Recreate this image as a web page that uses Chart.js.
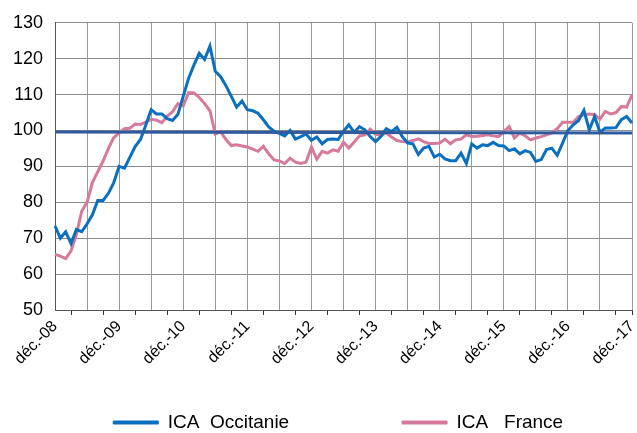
<!DOCTYPE html>
<html>
<head>
<meta charset="utf-8">
<script src="https://cdn.jsdelivr.net/npm/chart.js@4.4.0/dist/chart.umd.min.js"></script>
<style>
    html, body { margin: 0; padding: 0; background: #fff; }
</style>
</head>
<body>
<canvas id="myChart" width="637" height="433"></canvas>
<script>
// mois (déc.-08 -> déc.-17)
const nomsMois = ['janv.', 'févr.', 'mars', 'avr.', 'mai', 'juin', 'juil.', 'août', 'sept.', 'oct.', 'nov.', 'déc.'];
const annees = ['08', '09', '10', '11', '12', '13', '14', '15', '16', '17'];

const icaOccitanie = [
    73.4, 70, 71.8, 68.5, 72.4, 71.8, 74, 76.5, 80.5, 80.5, 82.5, 85.5,
    90, 89.5, 92.5, 95.5, 97.5, 101.5, 105.8, 104.6, 104.6, 103.3, 102.8, 104.5,
    109.5, 114.5, 118.2, 121.5, 119.8, 123.5, 116.5, 115, 112.5, 109.5, 106.5, 108.2,
    105.8, 105.5, 104.8, 103, 101, 99.8, 99.2, 98.5, 100, 97.6, 98.3, 99,
    97.3, 98.2, 96.3, 97.5, 97.6, 97.5, 99.8, 101.6, 99.5, 101.1, 100.2, 98.3,
    96.9, 98.3, 100.5, 99.7, 100.9, 98.3, 96.5, 96.3, 93.3, 95.1, 95.6, 92.6,
    93.4, 92.1, 91.6, 91.6, 93.7, 90.8, 96.3, 95.1, 96, 95.8, 96.7, 95.8,
    95.7, 94.4, 94.9, 93.5, 94.4, 93.9, 91.4, 91.9, 94.7, 95.1, 93.1, 96.5,
    100, 101.6, 102.8, 105.6, 100.2, 103.9, 99.5, 100.7, 100.7, 100.8, 103, 103.9,
    102.1
];

const icaFrance = [
    65.5, 65, 64.3, 66.5, 71, 77.5, 80, 85.5, 88.5, 91.5, 95, 98,
    99.3, 100.5, 100.6, 101.8, 101.7, 102.3, 103.1, 102.9, 102.2, 104, 105.2, 107.5,
    106.8, 110.5, 110.5, 109.2, 107.5, 105.5, 99, 99.7, 97.5, 95.8, 96, 95.7,
    95.4, 94.8, 94.2, 95.6, 93.5, 91.8, 91.5, 90.8, 92.3, 91.2, 90.8, 91.2,
    95.4, 92, 94.2, 93.7, 94.6, 94.2, 96.7, 95.1, 96.8, 98.5, 98.8, 100.4,
    99, 98.6, 99.3, 98.2, 97.2, 96.9, 96.8, 97.2, 97.7, 96.9, 96.4, 96.4,
    96.5, 97.6, 96.3, 97.4, 97.6, 98.8, 98.3, 98.4, 98.6, 98.8, 98.5, 98.3,
    99.7, 101.1, 97.9, 99.3, 98.5, 97.4, 97.9, 98.3, 98.8, 99.3, 100.5, 102.3,
    102.3, 102.3, 103.9, 104.4, 104.6, 104.4, 103.2, 105.3, 104.6, 105, 106.7, 106.5,
    109.9
];

// ligne de référence (début, fin)
const refDebut = 99.6;
const refFin = 99.3;

const legendeTextes = ['ICA  Occitanie', 'ICA   France'];
const yTicks = { min: 50, max: 130, pas: 10 };

let categories = [];
annees.forEach(function (a, k) {
    nomsMois.forEach(function (m, j) {
        if (k === 0 && j < 11) return;
        categories.push(m + '-' + a);
    });
});
categories = categories.slice(0, icaOccitanie.length);

const ligneRef = categories.map(function (c, i) {
    if (i === 0) return refDebut;
    if (i === categories.length - 1) return refFin;
    return null;
});

Chart.defaults.font.family = "'Liberation Sans', Arial, sans-serif";
Chart.defaults.color = '#000';

const ctx = document.getElementById('myChart');

const data = {
    labels: categories,
    datasets: [{
        label: legendeTextes[0],
        data: icaOccitanie,
        borderColor: '#0A6FBF',
        borderWidth: 3,
        pointRadius: 0,
        tension: 0,
        order: 1
    }, {
        label: legendeTextes[1],
        data: icaFrance,
        borderColor: '#D6799C',
        borderWidth: 3,
        pointRadius: 0,
        tension: 0,
        order: 2
    }, {
        label: 'ref',
        data: ligneRef,
        borderColor: '#2F5A9E',
        borderWidth: 3,
        pointRadius: 0,
        spanGaps: true,
        order: 0
    }]
};

const options = {
    responsive: false,
    animation: false,
    devicePixelRatio: 1,
    layout: {
        padding: { left: 0, right: 5, top: 22, bottom: 0 }
    },
    plugins: {
        tooltip: { enabled: false },
        legend: {
            position: 'bottom',
            fullSize: false,
            maxHeight: 22,
            labels: {
                boxWidth: 45,
                boxHeight: 3,
                padding: 2,
                font: { size: 19 },
                generateLabels: function (chart) {
                    // espaces pour écarter les deux entrées comme dans l'original
                    const suffixes = ['                     ', '  '];
                    return chart.data.datasets.slice(0, 2).map(function (ds, i) {
                        return {
                            text: ds.label + suffixes[i],
                            fillStyle: ds.borderColor,
                            strokeStyle: ds.borderColor,
                            lineWidth: 1,
                            hidden: false,
                            datasetIndex: i
                        };
                    });
                }
            }
        }
    },
    scales: {
        x: {
            afterFit: function (scale) {
                scale.height = 101;
                scale.paddingLeft = 0;
                scale.paddingRight = 0;
            },
            grid: {
                color: function (c) { return c.index % 6 === 0 ? '#9a9a9a' : 'transparent'; },
                tickColor: function (c) { return c.index % 6 === 3 || c.index === categories.length - 1 ? '#333' : 'transparent'; },
                tickLength: 5,
                lineWidth: 1
            },
            border: { color: '#555', width: 1 },
            ticks: {
                autoSkip: false,
                maxRotation: 45,
                minRotation: 45,
                padding: 2,
                font: { size: 16 },
                callback: function (v, i) {
                    return i % 12 === 0 ? categories[i] : '';
                }
            }
        },
        y: {
            min: yTicks.min,
            max: yTicks.max,
            afterFit: function (scale) { scale.width = 55; },
            grid: { color: '#8c8c8c', drawTicks: false, lineWidth: 1 },
            border: { color: '#555', width: 1 },
            ticks: {
                stepSize: yTicks.pas,
                padding: 12,
                font: { size: 18 }
            }
        }
    }
};

new Chart(ctx, {
    type: 'line',
    data: data,
    options: options
});
</script>
</body>
</html>
